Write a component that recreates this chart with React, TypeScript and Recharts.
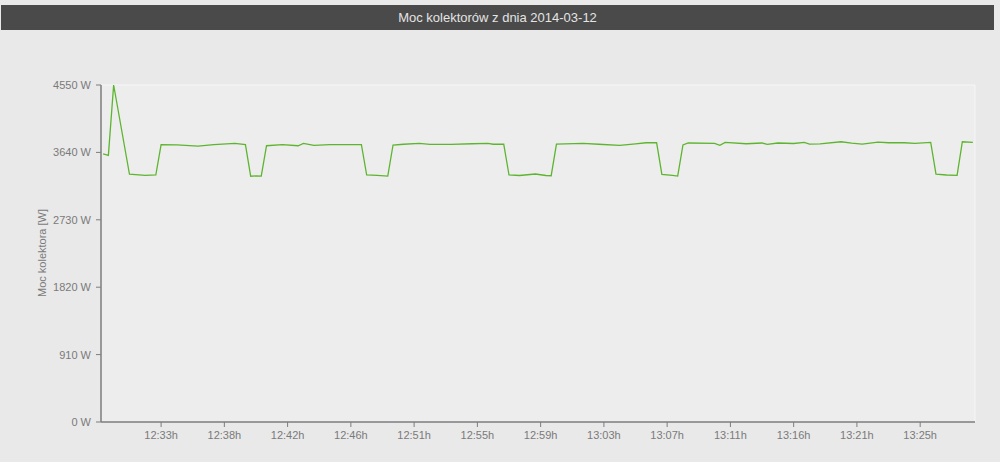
import { LineChart, Line, XAxis, YAxis, CartesianGrid, ReferenceLine } from 'recharts'

const samples = [
  1, 2, 3, 6, 9, 11, 12, 15, 19, 22, 26, 28, 29, 30, 31, 32, 35, 38, 39, 41,
  44, 48, 50, 51, 53, 55, 56, 58, 61, 63, 67, 71, 74, 75, 77, 78, 80, 83, 85, 86,
  87, 92, 95, 99, 102, 104, 106, 107, 109, 110, 111, 112, 117, 118, 119, 123, 126, 127, 129, 132,
  134, 135, 137, 141, 143, 145, 148, 150, 153, 155, 158, 159, 161, 163, 164, 166,
]

const power = [
  3620, 3600, 4550, 3345, 3330, 3335, 3745, 3742, 3726, 3745, 3762, 3744, 3318, 3322, 3321, 3730, 3745, 3730, 3762, 3735,
  3744, 3745, 3744, 3335, 3330, 3321, 3740, 3750, 3762, 3748, 3749, 3757, 3762, 3750, 3752, 3335, 3328, 3348, 3328, 3325,
  3753, 3762, 3750, 3735, 3755, 3770, 3772, 3344, 3330, 3321, 3740, 3767, 3762, 3735, 3776, 3757, 3767, 3749, 3767, 3760,
  3776, 3753, 3755, 3784, 3765, 3753, 3780, 3770, 3770, 3762, 3776, 3348, 3335, 3330, 3784, 3776,
]

const tickSamples = [12, 24, 36, 48, 60, 72, 84, 96, 108, 120, 132, 144, 156]
const tickLabels = [
  '12:33h', '12:38h', '12:42h', '12:46h', '12:51h', '12:55h', '12:59h',
  '13:03h', '13:07h', '13:11h', '13:16h', '13:21h', '13:25h',
]
const yTicks = [0, 910, 1820, 2730, 3640, 4550]

const title = 'Moc kolektorów z dnia 2014-03-12'
const yLabel = 'Moc kolektora [W]'

const data = samples.map((s, i) => ({ s, w: power[i] }))

const font = '"Liberation Sans", Arial, sans-serif'
const tickStyle = { fontSize: 11, fill: '#7a7a7a', fontFamily: font }

export default function App() {
  return (
    <div style={{ position: 'absolute', left: 0, top: 0, width: 1000, height: 462, background: '#e9e9e9' }}>
      <div
        style={{
          position: 'absolute',
          left: 1,
          top: 5,
          width: 993,
          height: 25,
          background: '#4a4a4a',
          color: '#e4e4e4',
          fontFamily: font,
          fontSize: 13,
          lineHeight: '25px',
          textAlign: 'center',
        }}
      >
        {title}
      </div>
      <LineChart
        width={1000}
        height={462}
        data={data}
        margin={{ top: 85, right: 25, bottom: 0, left: 0 }}
        style={{ position: 'absolute', left: 0, top: 0 }}
      >
        <CartesianGrid horizontal={false} vertical={false} fill="#ededed" />
        <ReferenceLine y={4550} stroke="#f6f6f6" />
        <ReferenceLine x={166.4} stroke="#f6f6f6" />
        <XAxis
          dataKey="s"
          type="number"
          domain={[0.6, 166.4]}
          ticks={tickSamples}
          tickFormatter={(v: number) => tickLabels[tickSamples.indexOf(v)] ?? ''}
          height={40}
          tickSize={5}
          tickMargin={4}
          tick={tickStyle}
          axisLine={{ stroke: '#7d7d7d', strokeWidth: 1.5 }}
          tickLine={{ stroke: '#7d7d7d' }}
          interval={0}
        />
        <YAxis
          type="number"
          domain={[0, 4550]}
          ticks={yTicks}
          tickFormatter={(v: number) => `${v} W`}
          width={101}
          tickSize={5}
          tickMargin={5}
          tick={tickStyle}
          axisLine={{ stroke: '#7d7d7d', strokeWidth: 1.5 }}
          tickLine={{ stroke: '#7d7d7d' }}
          interval={0}
          label={{
            content: () => (
              <text
                x={42}
                y={253}
                transform="rotate(-90 42 253)"
                textAnchor="middle"
                dominantBaseline="central"
                fontSize={11}
                fill="#7a7a7a"
                fontFamily={font}
              >
                {yLabel}
              </text>
            ),
          }}
        />
        <Line
          type="linear"
          dataKey="w"
          stroke="#5db52f"
          strokeWidth={1.3}
          dot={false}
          activeDot={false}
          isAnimationActive={false}
        />
      </LineChart>
    </div>
  )
}
